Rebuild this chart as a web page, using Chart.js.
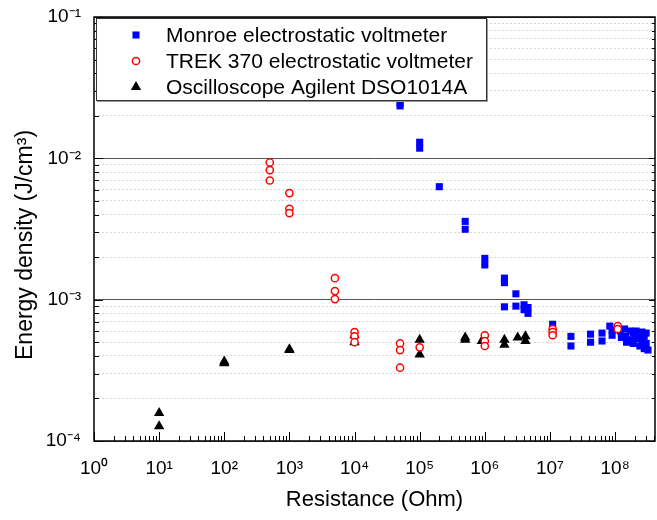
<!DOCTYPE html>
<html>
<head>
<meta charset="utf-8">
<script src="https://cdn.jsdelivr.net/npm/chart.js@4.4.1/dist/chart.umd.min.js"></script>
<style>
html,body{margin:0;padding:0;background:#fff;}
#wrap{width:657px;height:520px;position:relative;}
</style>
</head>
<body>
<div id="wrap"><canvas id="c" width="657" height="520"></canvas></div>
<script>
// ---------- data ----------
const seriesNames = ['Monroe electrostatic voltmeter', 'TREK 370 electrostatic voltmeter', 'Oscilloscope Agilent DSO1014A'];

const monroeX = [5e4, 5e4, 1e5, 1e5, 2e5, 5e5, 5e5, 1e6, 1e6, 2e6, 2e6, 2e6, 3e6, 3e6, 4e6, 4e6, 4.6e6, 4.6e6,
  1.1e7, 2.1e7, 2.1e7, 4.2e7, 4.2e7, 6.3e7, 6.3e7, 8.3e7, 9e7, 9e7, 1.2e8, 1.25e8, 1.4e8, 1.45e8, 1.5e8,
  1.7e8, 1.7e8, 1.9e8, 1.9e8, 2.1e8, 2.1e8, 2.3e8, 2.4e8, 2.6e8, 2.6e8, 2.8e8, 2.8e8, 3.0e8, 3.0e8, 3.2e8];
const monroeY = [0.0245, 0.0235, 0.0130, 0.0118, 0.0063, 0.00358, 0.00315, 0.00196, 0.00176, 0.00142, 0.00132, 0.00089,
  0.0011, 0.0009, 0.00092, 0.00085, 0.00088, 0.00080, 0.00067, 0.00055, 0.00047, 0.00057, 0.00050, 0.00058, 0.00051,
  0.00065, 0.00061, 0.00056, 0.00060, 0.00054, 0.00062, 0.00055, 0.00050, 0.00060, 0.00052, 0.00058, 0.00049,
  0.00060, 0.00053, 0.00056, 0.00047, 0.00059, 0.00051, 0.00055, 0.00045, 0.00058, 0.00049, 0.00044];

const trekX = [500, 500, 500, 1000, 1000, 1000, 5000, 5000, 5000, 1e4, 1e4, 1e4, 5e4, 5e4, 5e4, 1e5,
  1e6, 1e6, 1e6, 1.1e7, 1.1e7, 1.1e7, 1.1e8, 1.1e8];
const trekY = [0.00935, 0.00826, 0.00697, 0.00568, 0.0044, 0.0041, 0.00142, 0.00115, 0.00101, 0.00059, 0.00055, 0.00050,
  0.00049, 0.00044, 0.00033, 0.00046, 0.00056, 0.00051, 0.00047, 0.00062, 0.00059, 0.00056, 0.00065, 0.00062];

const oscX = [10, 10, 100, 100, 1000, 1000, 1e4, 1e4, 1e5, 1e5, 5e5, 5e5, 9e5, 2e6, 2e6, 3.2e6, 4.2e6, 4.2e6];
const oscY = [0.000158, 0.000127, 0.000365, 0.000355, 0.000445, 0.00044, 0.00056, 0.00050, 0.00052, 0.00041,
  0.00054, 0.00052, 0.00051, 0.00052, 0.00048, 0.00054, 0.00055, 0.00051];

const xTickExponents = [0, 1, 2, 3, 4, 5, 6, 7, 8];
const yTickExponents = [-4, -3, -2, -1];
const xMin = 1, xMax = 4.1e8;
const yMin = 1e-4, yMax = 1e-1;
const xTitle = 'Resistance (Ohm)';
const yTitle = 'Energy density (J/cm\u00B3)';

// ---------- helpers ----------
const FONT = "'Liberation Sans', Arial, sans-serif";
const SUP = {'-': '\u207B', '0': '\u2070', '1': '\u00B9', '2': '\u00B2', '3': '\u00B3', '4': '\u2074',
  '5': '\u2075', '6': '\u2076', '7': '\u2077', '8': '\u2078', '9': '\u2079'};
const toSup = n => String(n).split('').map(ch => SUP[ch]).join('');
const isPow10 = v => { const l = Math.log10(v); return Math.abs(l - Math.round(l)) < 1e-6; };
const powLabel = v => '10' + toSup(Math.round(Math.log10(v)));

function buildTicks(exps, maxV) {
  const out = [];
  exps.forEach(e => {
    for (let m = 1; m <= 9; m++) {
      const v = m * Math.pow(10, e);
      if (v <= maxV * 1.0000001) out.push(v);
    }
  });
  return out;
}
const xTickValues = buildTicks(xTickExponents, xMax);
const yTickValues = buildTicks(yTickExponents, yMax);

const toPts = (xs, ys) => xs.map((x, i) => ({x: x, y: ys[i]}));

const styles = [
  {pointStyle: 'rect', radius: 5, bg: '#0000ff', border: '#0000ff', bw: 0},
  {pointStyle: 'circle', radius: 3.6, bg: '#ffffff', border: '#ff0000', bw: 1.5},
  {pointStyle: 'triangle', radius: 6, bg: '#000000', border: '#000000', bw: 0}
];

// ---------- plugins ----------
const frameTicks = {
  id: 'frameTicks',
  afterDatasetsDraw(chart) {
    const {ctx, chartArea: a, scales: {x, y}} = chart;
    ctx.save();
    ctx.strokeStyle = '#000';
    ctx.lineWidth = 1;
    ctx.beginPath();
    x.ticks.forEach(t => {
      const px = Math.round(x.getPixelForValue(t.value)) + 0.5;
      const len = isPow10(t.value) ? 9 : 5;
      ctx.moveTo(px, a.bottom); ctx.lineTo(px, a.bottom - len);
    });
    y.ticks.forEach(t => {
      const py = Math.round(y.getPixelForValue(t.value)) + 0.5;
      const major = isPow10(t.value);
      ctx.moveTo(a.left, py); ctx.lineTo(a.left + (major ? 9 : 5), py);
      ctx.moveTo(a.right, py); ctx.lineTo(a.right - (major ? 6 : 3), py);
    });
    ctx.stroke();
    ctx.lineWidth = 1.5;
    ctx.strokeRect(a.left, a.top, a.right - a.left, a.bottom - a.top);
    ctx.restore();
  }
};

function drawMarker(ctx, s, cx, cy) {
  ctx.save();
  ctx.fillStyle = s.bg; ctx.strokeStyle = s.border; ctx.lineWidth = s.bw;
  ctx.beginPath();
  if (s.pointStyle === 'rect') {
    const h = s.radius * Math.SQRT1_2;
    ctx.rect(cx - h, cy - h, 2 * h, 2 * h);
    ctx.fill();
  } else if (s.pointStyle === 'circle') {
    ctx.arc(cx, cy, s.radius, 0, Math.PI * 2);
    ctx.fill(); ctx.stroke();
  } else {
    const r = s.radius;
    ctx.moveTo(cx, cy - r);
    ctx.lineTo(cx + r * 0.866, cy + r * 0.5);
    ctx.lineTo(cx - r * 0.866, cy + r * 0.5);
    ctx.closePath();
    ctx.fill();
  }
  ctx.restore();
}

const legendBox = {
  id: 'legendBox',
  afterDraw(chart) {
    const {ctx, chartArea: a} = chart;
    const bx = a.left + 2, by = a.top + 1, bw = 390, bh = 82;
    ctx.save();
    ctx.fillStyle = '#fff';
    ctx.fillRect(bx, by, bw, bh);
    ctx.strokeStyle = '#999';
    ctx.lineWidth = 1;
    ctx.beginPath();
    ctx.moveTo(bx + 1, by + bh + 1.5); ctx.lineTo(bx + bw + 1.5, by + bh + 1.5); ctx.lineTo(bx + bw + 1.5, by + 1);
    ctx.stroke();
    ctx.strokeStyle = '#333';
    ctx.strokeRect(bx + 0.5, by + 0.5, bw, bh);
    ctx.font = '21px ' + FONT;
    ctx.fillStyle = '#000';
    ctx.textBaseline = 'alphabetic';
    ctx.textAlign = 'left';
    chart.data.datasets.forEach((ds, i) => {
      const ry = by + 17 + i * 26;
      drawMarker(ctx, styles[i], a.left + 42, ry);
      ctx.fillText(ds.label, a.left + 72, ry + 7);
    });
    ctx.restore();
  }
};

// ---------- chart ----------
const datasets = [
  {label: seriesNames[0], data: toPts(monroeX, monroeY), order: 1},
  {label: seriesNames[1], data: toPts(trekX, trekY), order: 0},
  {label: seriesNames[2], data: toPts(oscX, oscY), order: 2}
].map((d, i) => Object.assign(d, {
  pointStyle: styles[i].pointStyle,
  pointRadius: styles[i].radius,
  pointHoverRadius: styles[i].radius,
  backgroundColor: styles[i].bg,
  borderColor: styles[i].border,
  pointBorderWidth: styles[i].bw,
  borderWidth: styles[i].bw,
  showLine: false
}));

new Chart(document.getElementById('c'), {
  type: 'scatter',
  data: {datasets},
  plugins: [frameTicks, legendBox],
  options: {
    responsive: false,
    animation: false,
    layout: {autoPadding: false, padding: {left: 0, right: 2, top: 17, bottom: 0}},
    plugins: {legend: {display: false}, tooltip: {enabled: false}},
    scales: {
      x: {
        type: 'logarithmic',
        min: xMin, max: xMax,
        afterBuildTicks: s => { s.ticks = xTickValues.map(v => ({value: v})); },
        afterFit: s => { s.height = 79; s.paddingLeft = 0; s.paddingRight = 0; },
        grid: {display: false},
        border: {display: false},
        ticks: {
          autoSkip: false, maxRotation: 0, padding: 8, color: '#000',
          font: {size: 19, family: FONT},
          callback: v => isPow10(v) ? powLabel(v) : ''
        },
        title: {display: true, text: xTitle, color: '#000', font: {size: 22, family: FONT}, padding: {top: 4, bottom: 7}}
      },
      y: {
        type: 'logarithmic',
        min: yMin, max: yMax,
        afterBuildTicks: s => { s.ticks = yTickValues.map(v => ({value: v})); },
        afterFit: s => { s.width = 94; s.paddingTop = 0; s.paddingBottom = 0; },
        grid: {
          drawTicks: false,
          lineWidth: 1,
          color: c => (c.tick && isPow10(c.tick.value)) ? '#555555' : '#d6d6d6'
        },
        border: {display: false, dash: c => (c.tick && isPow10(c.tick.value)) ? [] : [2, 2]},
        ticks: {
          autoSkip: false, padding: 13, color: '#000',
          font: {size: 19, family: FONT},
          callback: v => isPow10(v) ? powLabel(v) : ''
        },
        title: {display: true, text: yTitle + '\u00A0\u00A0\u00A0\u00A0\u00A0', color: '#000', font: {size: 23, family: FONT}, padding: {top: 12, bottom: 4}}
      }
    }
  }
});
</script>
</body>
</html>
